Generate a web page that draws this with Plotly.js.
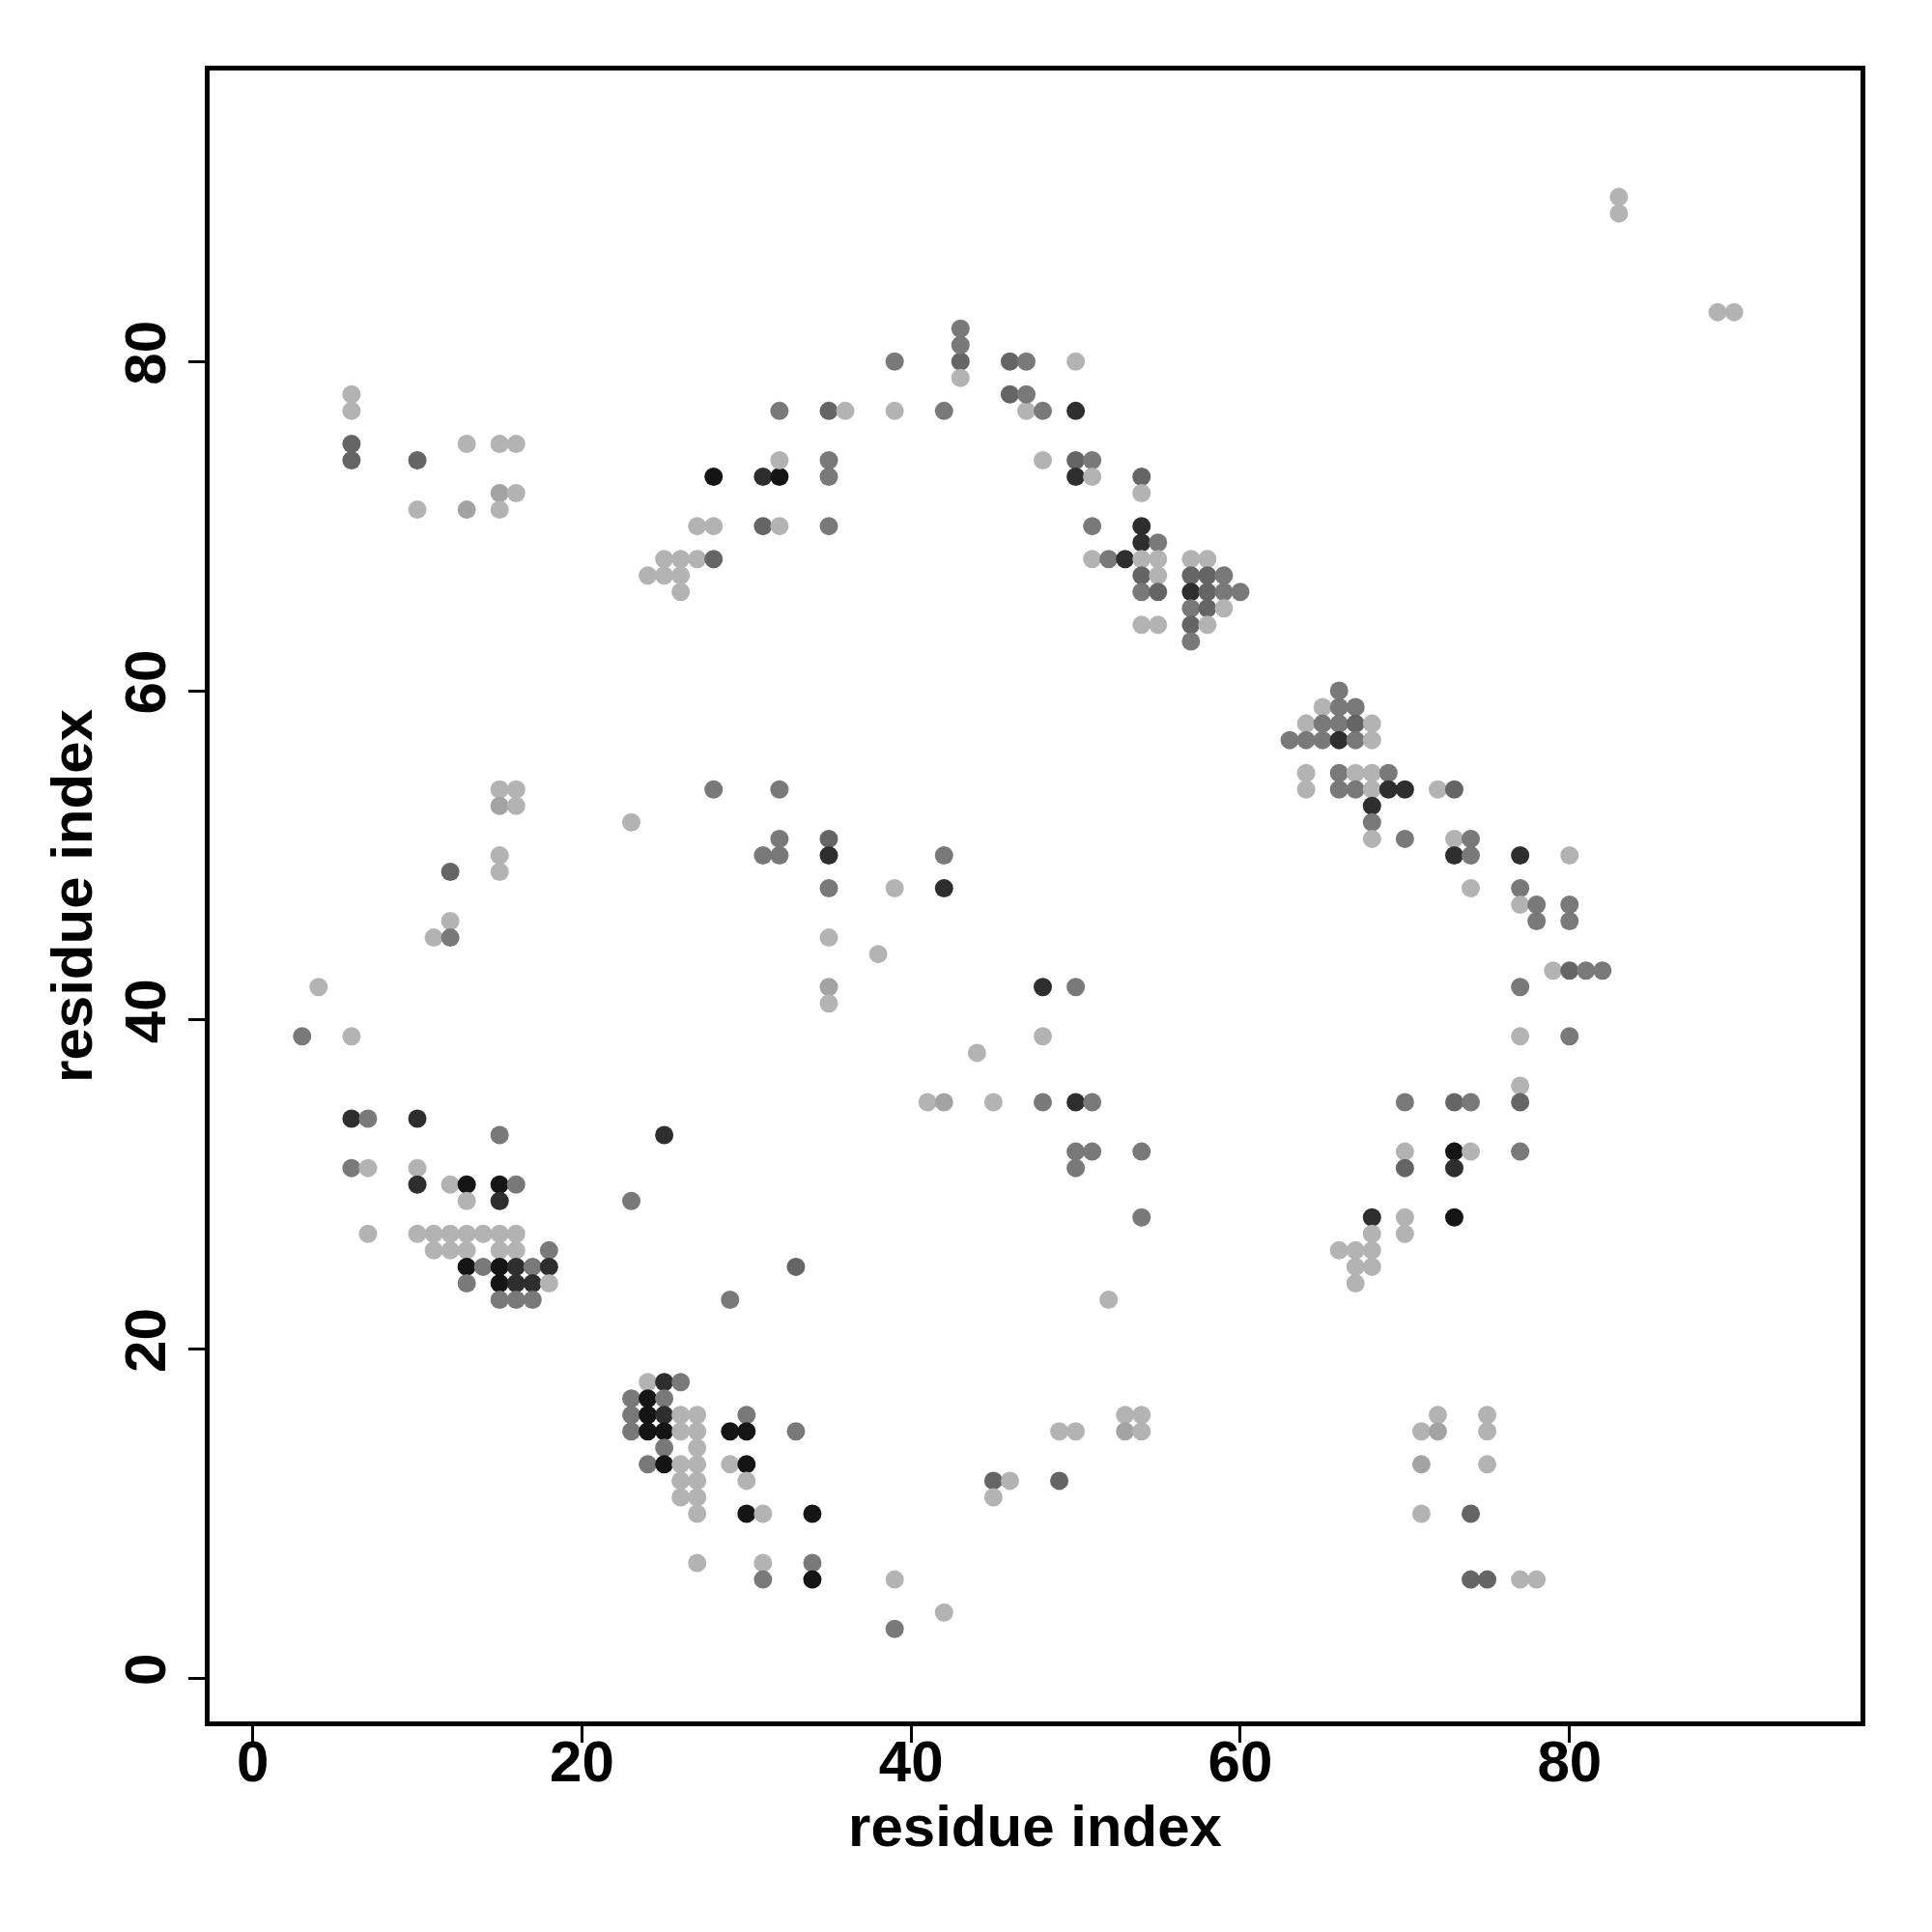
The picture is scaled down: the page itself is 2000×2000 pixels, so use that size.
<!DOCTYPE html>
<html>
<head>
<meta charset="utf-8">
<script src="https://cdn.plot.ly/plotly-3.0.1.min.js"></script>
<style>html,body{margin:0;padding:0;background:#fff;}#chart{width:2000px;height:2000px;}</style>
</head>
<body>
<div id="chart"></div>
<script>
// residue i (x), residue j (y), shade class of each contact
const resX = [
  6,6,6,6,10,13,15,16,15,16,10,13,15,24,
  25,26,27,28,25,26,26,27,28,31,32,35,28,31,32,35,32,35,32,35,36,39,42,47,46,47,39,43,46,47,43,43,43,
  48,50,50,48,50,51,50,51,54,54,51,54,54,55,51,52,53,54,55,57,58,54,55,57,58,59,54,55,57,58,59,60,57,58,59,54,55,57,58,57,
  83,83,89,90,
  66,65,66,67,64,65,66,67,68,63,64,65,66,67,68,64,66,67,68,69,64,66,67,68,69,70,72,73,68,68,68,70,73,74,73,74,77,80,74,77,77,78,80,78,80,79,80,81,82,77,77,80,77,70,73,74,77,70,73,74,77,70,73,68,70,73,68,70,66,67,68,67,68,67,
  28,32,23,32,35,31,32,35,42,35,39,42,35,38,35,35,44,41,42,45,48,50,48,48,50,51,50,51,50,54,54,52,
  15,16,15,16,15,12,15,12,11,12,4,3,6,6,7,10,15,25,
  6,7,10,10,12,13,15,16,13,15,23,7,10,11,12,13,14,15,16,11,12,13,15,16,18,13,14,15,16,17,18,13,15,16,17,18,15,16,17,
  33,29,24,25,26,23,24,25,23,24,25,26,27,30,23,24,25,26,27,29,30,33,25,27,24,25,26,27,29,30,26,27,30,26,27,27,30,31,34,27,31,34,31,34,39,42,39,45,46,49,45,49,50,53,54,53,54,
  72,75,71,72,75,71,75,71,74,74,75,77,78
];
const resY = [
  78,77,75,74,74,75,75,75,72,72,71,71,71,67,
  68,68,68,68,67,67,66,70,70,70,70,70,73,73,73,73,74,74,77,77,77,77,77,77,78,78,80,80,80,80,79,81,82,
  77,80,77,74,74,74,73,73,73,72,70,70,69,69,68,68,68,68,68,68,68,67,67,67,67,67,66,66,66,66,66,66,65,65,65,64,64,64,64,63,
  90,89,83,83,
  60,59,59,59,58,58,58,58,58,57,57,57,57,57,57,55,55,55,55,55,54,54,54,54,54,54,54,54,53,52,51,51,51,51,50,50,50,50,48,48,47,47,47,46,46,43,43,43,43,42,39,39,36,35,35,35,35,32,32,32,32,31,31,28,28,28,27,27,26,26,26,25,25,24,
  54,54,52,51,51,50,50,50,50,48,48,48,45,44,42,41,38,35,35,35,42,42,39,35,35,35,32,32,31,32,28,23,
  54,54,53,53,50,49,49,46,45,45,42,39,39,34,34,34,33,33,
  31,31,31,30,30,30,30,30,29,29,29,27,27,27,27,27,27,27,27,26,26,26,26,26,26,25,25,25,25,25,25,24,24,24,24,24,23,23,23,
  25,23,18,18,18,17,17,17,16,16,16,16,16,16,15,15,15,15,15,15,15,15,14,14,13,13,13,13,13,13,12,12,12,11,11,10,10,10,10,7,7,7,6,6,6,4,3,12,12,12,11,15,15,16,16,15,15,
  16,16,15,15,15,13,13,10,10,6,6,6,6
];
const shade = [
  "L","L","M2","M2","M2","L","L","L","L2","L","L","L2","L","L",
  "L","L","L","M2","L","L","L","L","L","M2","L","M","D","D2","D","M","L","M","M","M2","L","L","M","L","M2","M","M","M2","M2","M","L","M","M",
  "M","L","D2","L","M2","M","D2","L","M2","L","M","D2","D2","M","L","M","D2","L","L","L","L","M2","L","M2","M2","M","M","M2","D2","M2","M","M","M","M2","L","L","L","M2","L","M",
  "L","L","L","L",
  "M","L","M","M","L","M","M","M2","L","M","M","M","D2","M","L","L","M","L","L","M","L","M","M","L","D2","D2","L","M2","D2","M","L","M","L","M","D2","M","D2","L","L","M","L","M","M","M","M","L","M2","M","M","M","L","M","L","M","M2","M","M2","L","D","L","M","M2","D2","D2","L","D","L","L","L","L","L","L","L","L",
  "M","M","L","M","M2","M","M","D2","M","M","L","D2","L","L","L2","L","L","L","L2","L","D2","M","L","M","D2","M","M","M","M","M","M","L",
  "L","L","L2","L","L","M2","L","L","L","M","L","M","L","D2","M","D2","M","D2",
  "M","L","L","D2","L","D","D","M","L","D2","M","L","L","L","L","L","L","L","L","L","L","L","L","L","M","D","M","D","D2","M","D2","M","D","D2","D2","L","M","M","M",
  "M2","M","L","D2","M","M","D","M","M","D","D2","L","L","M","M","D","D","L","L","D","D","M","M","L","M","D","L","L","L","D","L","L","L","L","L","L","D","L","D","L","L","M","M","D","L","L","M","M2","L","M2","L","L","L","L","L","L2","L",
  "L","L","L","L2","L","L2","L","L","M2","M2","M2","L","L"
];
const tickLabels = ["0","20","40","60","80"];
const tickValues = [0,20,40,60,80];

const shadeColor = {L:"#b3b3b3", L2:"#a3a3a3", M:"#797979", M2:"#656565", D2:"#2e2e2e", D:"#151515"};
const colors = shade.map(s => shadeColor[s]);

const font = {family: "Liberation Sans, Arial, Helvetica, sans-serif", size: 60, color: "#000", weight: "bold"};

const trace = {
  type: "scatter",
  mode: "markers",
  x: resX,
  y: resY,
  marker: {size: 19, color: colors, line: {width: 0}},
  hoverinfo: "x+y"
};

const axisCommon = {
  showgrid: false,
  zeroline: false,
  showline: true,
  mirror: true,
  linecolor: "#000",
  linewidth: 5,
  ticks: "outside",
  ticklen: 17,
  tickwidth: 3,
  tickcolor: "#000",
  tickvals: tickValues,
  ticktext: tickLabels,
  tickfont: font,
  automargin: false
};

const layout = {
  width: 2000,
  height: 2000,
  paper_bgcolor: "#fff",
  plot_bgcolor: "#fff",
  showlegend: false,
  margin: {l: 217, r: 74, t: 73, b: 218, pad: 0},
  xaxis: Object.assign({}, axisCommon, {
    range: [-2.62, 97.68],
    ticklabelstandoff: -32,
    title: {text: "residue index", font: font, standoff: 14}
  }),
  yaxis: Object.assign({}, axisCommon, {
    range: [-2.62, 97.68],
    tickangle: -90,
    title: {text: "residue index", font: font, standoff: 4}
  })
};

Plotly.newPlot("chart", [trace], layout, {displayModeBar: false, staticPlot: true});
</script>
</body>
</html>
